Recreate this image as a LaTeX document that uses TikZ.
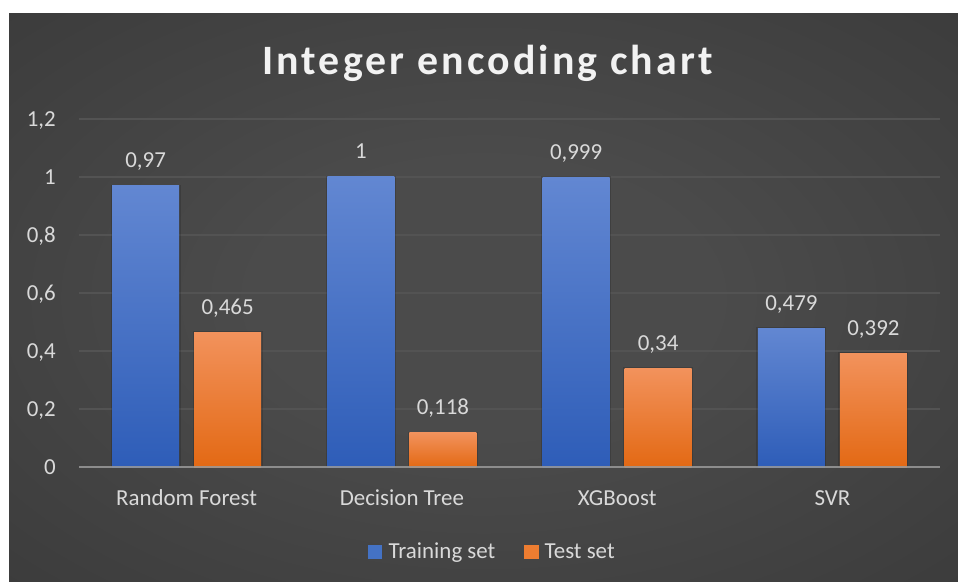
\documentclass[tikz,border=0pt]{standalone}
\usepackage{fontspec}
\setmainfont{Carlito}
\newfontfamily\titlefont[LetterSpace=7.5]{Carlito}

\definecolor{bgin}{HTML}{4B4B4B}
\definecolor{bgout}{HTML}{252525}
\definecolor{gridgray}{HTML}{535353}
\definecolor{axisgray}{HTML}{9A9A9A}
\definecolor{labelgray}{HTML}{D9D9D9}
\definecolor{trainhi}{HTML}{6287D2}
\definecolor{trainlo}{HTML}{2E5DB8}
\definecolor{testhi}{HTML}{F2925C}
\definecolor{testlo}{HTML}{E36914}
\definecolor{traincol}{HTML}{4472C4}
\definecolor{testcol}{HTML}{ED7D31}

% soft radial light for the chart area
\pgfdeclareradialshading{chartbg}{\pgfpoint{0bp}{0bp}}{%
  color(0bp)=(bgin); color(12bp)=(bgin); color(72bp)=(bgout)}

\tikzset{
  gridline/.style={draw=gridgray, line width=1.4bp},
  trainbar/.style={top color=trainhi, bottom color=trainlo},
  testbar/.style={top color=testhi, bottom color=testlo},
  vallabel/.style={anchor=base, text=labelgray, inner sep=0pt,
                   font=\fontsize{23}{27}\selectfont},
  ticklabel/.style={anchor=base east, text=labelgray, inner sep=0pt,
                    font=\fontsize{23}{27}\selectfont},
  catlabel/.style={anchor=base, text=labelgray, inner sep=0pt,
                   font=\fontsize{23}{27}\selectfont},
  legendtext/.style={anchor=base west, text=labelgray, inner sep=0pt,
                     font=\fontsize{23}{27}\selectfont},
}

% one bar: left edge, value, fill style, printed value
\newcommand\databar[4]{%
  \pgfmathsetmacro\bartop{467-290*#2}%
  \fill[black, opacity=0.15] (#1-1.5,\bartop-1) rectangle (#1+68.5,467);
  \shade[#3] (#1,\bartop) rectangle (#1+67,467);
  \node[vallabel] at (#1+33.5,\bartop-18) {#4};
}

\begin{document}
\begin{tikzpicture}[x=1bp, y=-1bp]
  \useasboundingbox (0,0) rectangle (958,582);
  \fill[white] (0,0) rectangle (958,582);
  \shade[shading=chartbg] (9,14) rectangle (958,582);

  % title
  \node (title) [anchor=base, text=white!95!black, inner sep=0pt,
        font=\titlefont\bfseries\fontsize{42}{48}\selectfont]
        at (487.5,75) {Integer encoding chart};

  % horizontal grid and value axis labels
  \foreach \v/\t in {1/{0,2}, 2/{0,4}, 3/{0,6}, 4/{0,8}, 5/{1}, 6/{1,2}} {
    \draw[gridline] (79,467-58*\v) -- (940,467-58*\v);
    \node[ticklabel] at (56,467-58*\v+7.5) {\t};
  }
  \node[ticklabel] at (56,467+7.5) {0};

  % Random Forest
  \databar{112.1}{0.97}{trainbar}{0,97}
  \databar{194.1}{0.465}{testbar}{0,465}
  % Decision Tree
  \databar{327.4}{1}{trainbar}{1}
  \databar{409.4}{0.118}{testbar}{0,118}
  % XGBoost
  \databar{542.6}{0.999}{trainbar}{0,999}
  \databar{624.6}{0.34}{testbar}{0,34}
  % SVR
  \databar{757.9}{0.479}{trainbar}{0,479}
  \databar{839.9}{0.392}{testbar}{0,392}

  % category axis
  \draw[draw=axisgray, line width=2.4bp, opacity=0.85] (79,467) -- (940,467);
  \node (rf)  [catlabel] at (186.6,505) {Random Forest};
  \node (dt)  [catlabel] at (401.9,505) {Decision Tree};
  \node (xgb) [catlabel] at (617.1,505) {XGBoost};
  \node (svr) [catlabel] at (832.4,505) {SVR};

  % legend
  \fill[traincol] (367.7,545) rectangle (382,559);
  \node (lgtrain) [legendtext] at (388.5,558) {Training set};
  \fill[testcol] (524,545) rectangle (538.5,559);
  \node (lgtest) [legendtext] at (544.5,558) {Test set};
\end{tikzpicture}
\end{document}
